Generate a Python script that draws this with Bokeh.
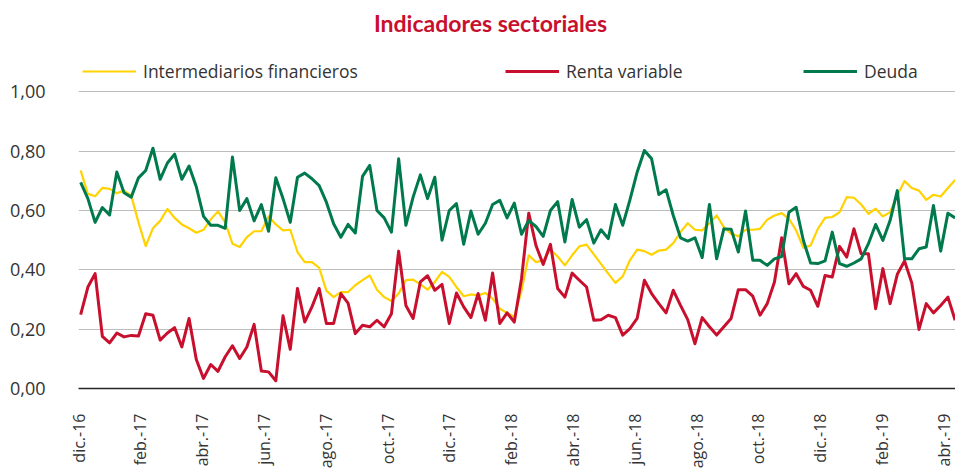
import numpy as np
from bokeh.plotting import figure
from bokeh.models import Range1d, FixedTicker, CustomJSTickFormatter, Legend, LegendItem, Label
from bokeh.embed import file_html
from bokeh.resources import INLINE

# ---------------- data (weekly observations) ----------------
tick_labels = ["dic.-16", "feb.-17", "abr.-17", "jun.-17", "ago.-17", "oct.-17", "dic.-17",
               "feb.-18", "abr.-18", "jun.-18", "ago.-18", "oct.-18", "dic.-18", "feb.-19", "abr.-19"]

intermediarios = [
    0.735, 0.656, 0.648, 0.676, 0.673, 0.658, 0.667, 0.650, 0.560, 0.480, 0.540, 0.565, 0.605, 0.575, 0.553, 0.540,
    0.525, 0.535, 0.570, 0.597, 0.560, 0.488, 0.477, 0.510, 0.530, 0.530, 0.580, 0.553, 0.533, 0.535, 0.460,
    0.426, 0.426, 0.407, 0.330, 0.308, 0.325, 0.325, 0.348, 0.365, 0.381, 0.333, 0.308, 0.295, 0.320, 0.365, 0.367,
    0.351, 0.333, 0.359, 0.393, 0.376, 0.342, 0.311, 0.317, 0.314, 0.322, 0.303, 0.269, 0.255, 0.241, 0.330,
    0.449, 0.426, 0.432, 0.468, 0.445, 0.415, 0.449, 0.479, 0.485, 0.452, 0.420, 0.387, 0.356, 0.378, 0.432,
    0.468, 0.463, 0.451, 0.465, 0.468, 0.490, 0.527, 0.557, 0.535, 0.533, 0.557, 0.583, 0.544, 0.522, 0.513,
    0.535, 0.535, 0.538, 0.569, 0.583, 0.591, 0.572, 0.533, 0.474, 0.482, 0.538, 0.575, 0.578, 0.594, 0.645,
    0.643, 0.620, 0.589, 0.606, 0.580, 0.594, 0.651, 0.699, 0.676, 0.667, 0.636, 0.653, 0.647, 0.676, 0.703,
]

renta_variable = [
    0.249, 0.342, 0.387, 0.176, 0.154, 0.187, 0.174, 0.179, 0.177, 0.252, 0.247, 0.163, 0.187, 0.205, 0.140, 0.236,
    0.098, 0.034, 0.081, 0.058, 0.107, 0.144, 0.101, 0.140, 0.216, 0.059, 0.056, 0.026, 0.245, 0.132, 0.337,
    0.224, 0.275, 0.337, 0.219, 0.219, 0.320, 0.288, 0.185, 0.213, 0.208, 0.230, 0.208, 0.252, 0.463, 0.280, 0.236,
    0.359, 0.380, 0.331, 0.351, 0.219, 0.322, 0.275, 0.239, 0.320, 0.230, 0.389, 0.219, 0.255, 0.224, 0.370,
    0.591, 0.482, 0.418, 0.486, 0.337, 0.308, 0.389, 0.365, 0.342, 0.230, 0.232, 0.247, 0.239, 0.180, 0.202,
    0.236, 0.365, 0.320, 0.286, 0.255, 0.331, 0.280, 0.232, 0.151, 0.239, 0.208, 0.180, 0.208, 0.236, 0.333,
    0.333, 0.311, 0.247, 0.286, 0.359, 0.508, 0.353, 0.387, 0.344, 0.331, 0.277, 0.381, 0.376, 0.479, 0.443,
    0.538, 0.454, 0.454, 0.269, 0.404, 0.286, 0.385, 0.430, 0.356, 0.199, 0.286, 0.255, 0.280, 0.308, 0.230,
]

deuda = [
    0.695, 0.640, 0.560, 0.610, 0.585, 0.730, 0.660, 0.645, 0.710, 0.735, 0.810, 0.705, 0.760, 0.790, 0.705, 0.750,
    0.680, 0.580, 0.550, 0.550, 0.540, 0.780, 0.600, 0.640, 0.565, 0.620, 0.530, 0.710, 0.640, 0.560, 0.712,
    0.726, 0.707, 0.684, 0.628, 0.555, 0.510, 0.553, 0.524, 0.715, 0.752, 0.600, 0.575, 0.527, 0.774, 0.550, 0.645,
    0.720, 0.640, 0.712, 0.500, 0.600, 0.623, 0.486, 0.598, 0.520, 0.557, 0.620, 0.634, 0.575, 0.625, 0.520,
    0.566, 0.546, 0.513, 0.600, 0.630, 0.494, 0.637, 0.544, 0.569, 0.490, 0.535, 0.505, 0.620, 0.550, 0.636,
    0.729, 0.802, 0.774, 0.654, 0.670, 0.583, 0.508, 0.497, 0.508, 0.441, 0.620, 0.437, 0.538, 0.537, 0.460,
    0.598, 0.432, 0.432, 0.415, 0.437, 0.445, 0.594, 0.611, 0.499, 0.423, 0.421, 0.430, 0.527, 0.421, 0.412,
    0.423, 0.437, 0.488, 0.553, 0.499, 0.566, 0.667, 0.437, 0.437, 0.471, 0.477, 0.617, 0.463, 0.591, 0.575,
]

weeks = list(range(len(intermediarios)))
# bimonthly labels fall roughly every 8.55 weekly observations
TICK0, TICKSTEP = -0.28, 8.55
tick_pos = [TICK0 + TICKSTEP * k for k in range(len(tick_labels))]

YELLOW = "#FFD200"
RED = "#C8102E"
GREEN = "#007A4D"
FONT = "Open Sans"

FRAME_H = 388          # frame height in px (title/legend live in its upper part)
PX_PER_UNIT = 296.7    # vertical pixels per 1.0 of the index

p = figure(width=955, height=473, output_backend="svg", toolbar_location=None,
           x_range=Range1d(-0.3, 121.05), y_range=Range1d(0, FRAME_H / PX_PER_UNIT),
           min_border_left=78, min_border_right=0, min_border_top=0, min_border_bottom=85)

r_y = p.line(weeks, intermediarios, line_color=YELLOW, line_width=2.2, line_join="round")
r_r = p.line(weeks, renta_variable, line_color=RED, line_width=3, line_join="round")
r_g = p.line(weeks, deuda, line_color=GREEN, line_width=3, line_join="round")

# title (screen units relative to the frame's bottom-left corner)
p.add_layout(Label(x=412, y=FRAME_H - 22, x_units="screen", y_units="screen",
                   text="Indicadores sectoriales", text_font="Lato", text_font_style="bold",
                   text_font_size="23px", text_color="#C8102E",
                   text_align="center", text_baseline="middle"))

# one single-item legend per series, placed like the reference
for rend, lab, xpos in [(r_y, "Intermediarios financieros", 4),
                        (r_r, "Renta variable", 427),
                        (r_g, "Deuda", 725)]:
    lg = Legend(items=[LegendItem(label=lab, renderers=[rend])],
                location=(xpos, FRAME_H - 83), orientation="horizontal",
                glyph_width=54, label_standoff=7, padding=0, margin=0,
                label_text_font=FONT, label_text_font_size="17.5px", label_text_color="#333333",
                border_line_alpha=0, background_fill_alpha=0)
    p.add_layout(lg, "center")

# axes
p.xaxis.ticker = FixedTicker(ticks=tick_pos)
p.xaxis.formatter = CustomJSTickFormatter(
    args=dict(labels=tick_labels, t0=TICK0, step=TICKSTEP),
    code="const k = Math.round((tick - t0) / step); return (k >= 0 && k < labels.length) ? labels[k] : '';")
p.xaxis.major_label_orientation = np.pi / 2
p.xaxis.major_tick_out = 0
p.xaxis.major_tick_in = 0
p.xaxis.major_label_standoff = 25
p.xaxis.major_tick_line_color = None
p.xaxis.minor_tick_line_color = None
p.xaxis.axis_line_color = "#262626"
p.xaxis.axis_line_width = 1.5
p.xaxis.major_label_text_font = FONT
p.xaxis.major_label_text_font_size = "16px"
p.xaxis.major_label_text_color = "#333333"

p.yaxis.ticker = FixedTicker(ticks=[0, 0.2, 0.4, 0.6, 0.8, 1.0])
p.yaxis.formatter = CustomJSTickFormatter(code="return tick.toFixed(2).replace('.', ',');")
p.yaxis.axis_line_color = None
p.yaxis.major_tick_out = 0
p.yaxis.major_tick_in = 0
p.yaxis.major_tick_line_color = None
p.yaxis.minor_tick_line_color = None
p.yaxis.major_label_standoff = 33
p.yaxis.major_label_text_font = FONT
p.yaxis.major_label_text_font_size = "18px"
p.yaxis.major_label_text_color = "#333333"

p.xgrid.grid_line_color = None
p.ygrid.grid_line_color = "#BDBDBD"
p.ygrid.grid_line_width = 1.2
p.outline_line_color = None

open("out.html", "w").write(file_html(p, INLINE))
